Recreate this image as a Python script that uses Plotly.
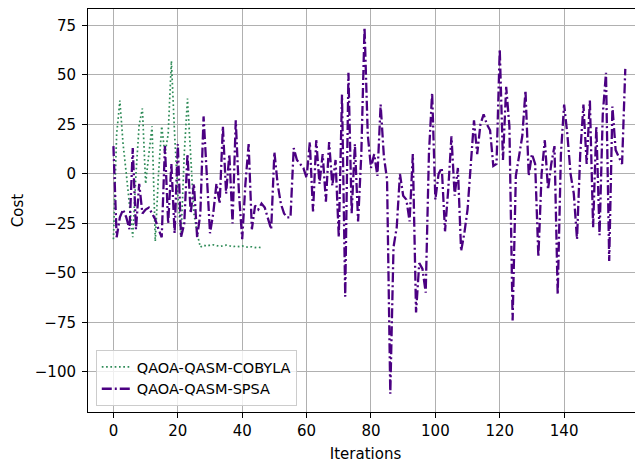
import plotly.graph_objects as go

cobyla_cost = [-33, 20, 37, 15, 0, -15, -32, 0, 25, 33, -5, 10, 24, -34, 0, 24, 10, 20, 57, 20,
               -10, -32, 10, 38, 10, -20, -30, -37, -36, -36.5, -36, -35.8, -36.2, -36.6, -36.4,
               -36, -36.3, -36.8, -36.5, -36.7, -36.4, -36.9, -37, -36.8, -37.2, -37, -37.4]
cobyla_iter = list(range(len(cobyla_cost)))

spsa_cost = [14, -32, -22, -18, -22, -28, 13, -28, -5, -20,
             -18, -17, -20, -23, -28, -32, 14, -25, 5, -30,
             15, -32, -25, 10, -20, -5, -32, -20, 29, 0,
             -30, -20, -5, -15, 24, -10, 10, -25, 27, -10,
             -33, -5, 15, -28, -16, -18, -15, -17, -22, -28,
             11, -5, -15, -20, -22, -22, 13, 7, 5, 3,
             -2, 16, -19, 17, -5, 10, -14, 16, -6, 7,
             -32, 40, -62, 51, -20, 15, -24, 10, 74, 20,
             3, 10, -1, 35, 9, -3, -111, -37, -27, 0,
             -11, -13, -24, 10, -70, -45, -48, -60, 10, 41,
             -13, 0, 3, -29, -8, 19, -11, 3, -39, -30,
             -18, 5, 27, 10, 25, 30, 25, 22, 4, 5,
             63, 7, 44, 24, -74, -1, 10, 19, 42, -1,
             10, 5, -42, 0, 17, -8, 5, 14, -61, 10,
             35, 20, 0, -10, -33, 10, 35, 5, 37, -27,
             24, -31, 30, 51, -44, 34, 12, 8, 5, 53]
spsa_iter = list(range(len(spsa_cost)))

x_ticks = [0, 20, 40, 60, 80, 100, 120, 140]
y_ticks = [-100, -75, -50, -25, 0, 25, 50, 75]

fig = go.Figure()
fig.add_trace(go.Scatter(
    x=cobyla_iter, y=cobyla_cost, mode="lines", name="QAOA-QASM-COBYLA",
    line=dict(color="#2e8b57", width=1.7, dash="1.7px,2.6px"),
))
fig.add_trace(go.Scatter(
    x=spsa_iter, y=spsa_cost, mode="lines", name="QAOA-QASM-SPSA",
    line=dict(color="#4b0082", width=2.3, dash="10px,3px,2px,3px"),
))

font = dict(family="DejaVu Sans, sans-serif", size=15, color="black")
# the page body adds an 8px margin on the top and left, so the figure is 8px smaller
fig.update_layout(
    width=635, height=455,
    margin=dict(l=80, r=0, t=1, b=51),
    paper_bgcolor="white", plot_bgcolor="white",
    font=font,
    showlegend=True,
    legend=dict(x=0.014, y=0.015, xanchor="left", yanchor="bottom",
                bgcolor="rgba(255,255,255,0.8)", bordercolor="#cccccc", borderwidth=1,
                font=dict(family="DejaVu Sans, sans-serif", size=14.5, color="black"),
                itemwidth=30),
)
fig.update_xaxes(
    range=[-7.9, 164.5], tickvals=x_ticks, ticktext=[str(v) for v in x_ticks],
    automargin=False,
    showgrid=True, gridcolor="#b0b0b0", gridwidth=0.8, zeroline=False,
    showline=True, linecolor="black", linewidth=1, mirror=True,
    ticks="outside", ticklen=5, tickcolor="black",
    title=dict(text="Iterations", standoff=10, font=font),
)
fig.update_yaxes(
    range=[-120.25, 83.25], tickvals=y_ticks,
    automargin=False,
    showgrid=True, gridcolor="#b0b0b0", gridwidth=0.8, zeroline=False,
    showline=True, linecolor="black", linewidth=1, mirror=False,
    ticks="outside", ticklen=5, tickcolor="black", ticklabelstandoff=3,
    title=dict(text="Cost", standoff=7, font=font),
)
fig.write_html("out.html")
